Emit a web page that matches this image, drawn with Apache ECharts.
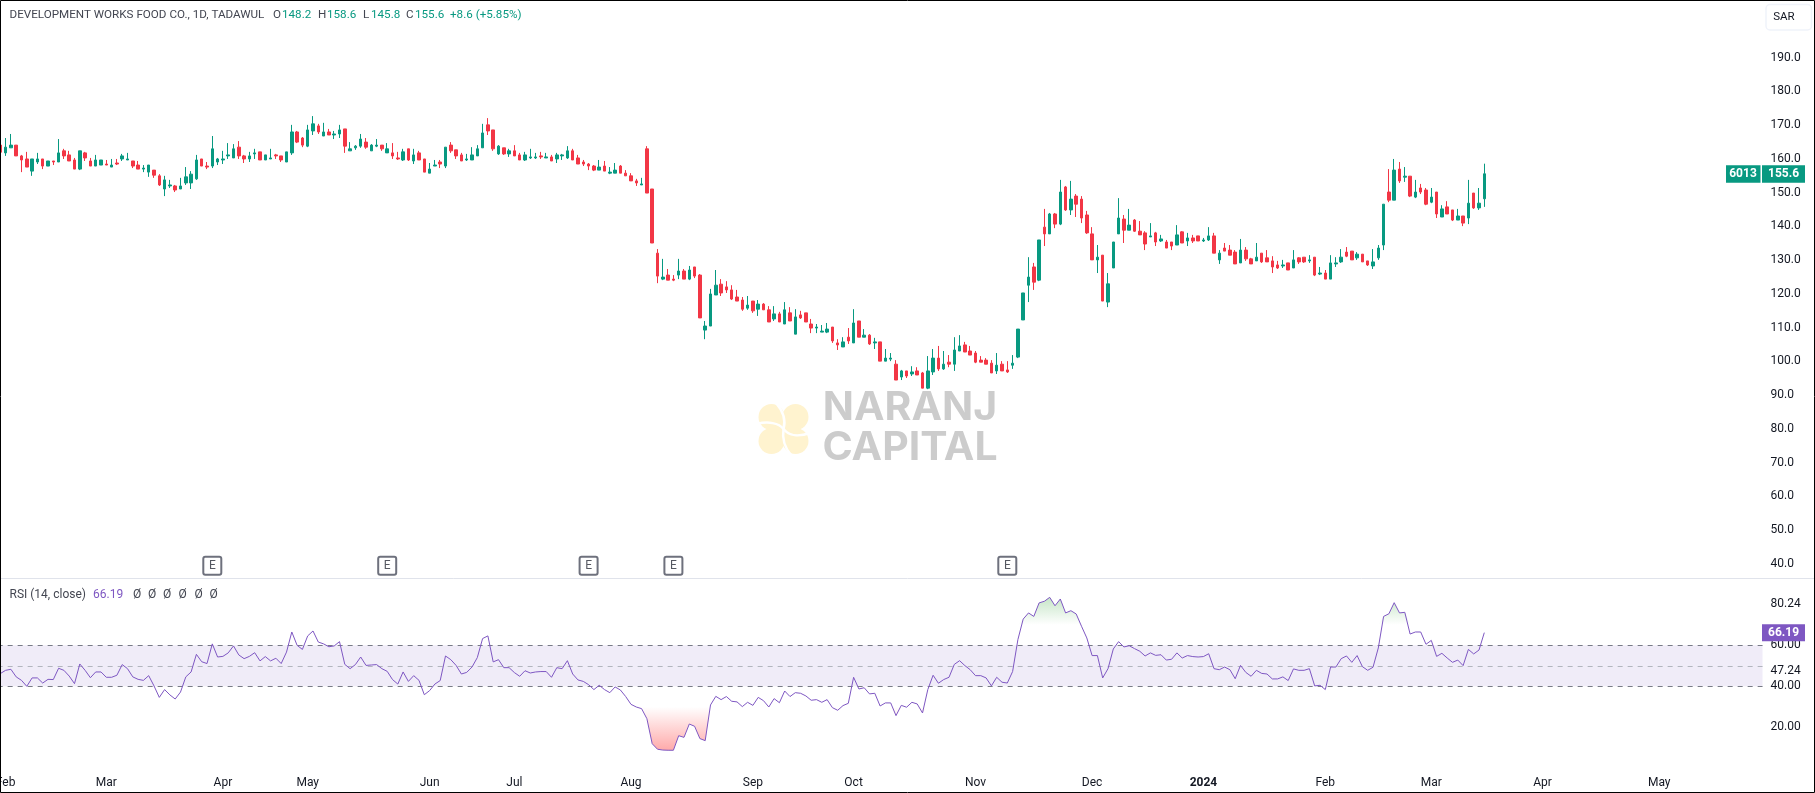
<!DOCTYPE html>
<html>
<head>
<meta charset="utf-8">
<title>6013 RSI</title>
<script src="https://cdn.jsdelivr.net/npm/echarts@6/dist/echarts.min.js"></script>
<style>
    html, body { margin: 0; padding: 0; background: #fff; overflow: hidden; }
    #chart { width: 1815px; height: 793px; }
</style>
</head>
<body>
<div id="chart"></div>
<script>
// candles
var opens = [
    164.1,161.8,163.3,164.1,160.9,160.0,156.4,159.1,160.0,157.9,
    159.4,159.1,162.4,161.2,159.7,157.0,161.8,159.4,157.9,158.2,
    158.5,157.6,158.8,160.0,159.7,159.4,158.2,157.0,156.1,156.7,
    155.0,151.1,152.0,152.0,151.1,152.9,152.9,154.1,160.0,157.9,
    157.9,159.1,159.7,160.9,160.3,163.5,160.9,160.0,161.5,162.1,
    159.7,160.0,161.2,160.9,159.1,161.8,168.0,166.2,163.8,168.3,
    169.8,166.8,168.0,167.1,167.4,168.9,162.4,163.3,163.8,165.0,
    162.4,163.8,164.1,161.8,161.8,160.3,159.7,163.0,159.4,161.8,
    160.0,155.8,157.9,159.1,157.9,164.1,162.7,161.2,159.7,159.7,
    160.9,163.3,170.1,168.6,161.5,163.3,161.5,162.4,161.2,159.7,
    160.3,160.3,160.9,160.3,160.6,160.0,160.9,160.3,162.4,160.3,
    159.1,158.5,157.9,156.7,157.9,155.8,155.8,157.9,155.8,155.0,
    153.5,152.3,163.0,151.1,132.1,124.4,125.6,124.4,125.6,126.8,
    124.4,128.0,125.6,109.3,110.5,119.7,122.9,122.1,121.2,119.1,
    118.2,115.8,117.9,115.5,117.0,115.3,112.6,114.1,111.1,114.4,
    108.1,113.8,114.4,111.1,109.9,108.7,108.7,110.2,105.5,104.3,
    107.2,105.5,112.0,107.2,107.8,105.5,105.8,100.1,100.7,99.2,
    95.4,97.2,96.3,97.2,96.6,92.1,96.9,101.0,97.8,99.8,
    99.2,103.1,104.9,103.1,102.5,100.4,100.4,99.5,97.2,99.2,
    97.5,98.9,101.3,112.3,122.6,128.0,124.1,139.8,137.8,143.7,
    140.7,151.7,144.9,149.0,148.1,143.4,137.8,130.1,131.5,117.6,
    127.7,137.8,142.2,138.9,141.9,138.6,138.1,136.9,138.1,135.7,
    135.4,135.4,134.5,138.4,135.7,136.6,137.2,135.7,136.0,137.2,
    130.1,133.6,133.0,132.4,129.2,133.0,130.4,129.8,132.1,130.7,
    129.8,128.6,128.3,129.2,127.7,130.7,130.9,129.8,130.9,125.9,
    126.2,124.4,128.9,129.5,132.4,132.7,130.7,131.8,129.8,128.3,
    130.7,134.5,150.2,147.8,157.0,154.6,154.9,148.7,151.4,150.8,
    147.2,150.2,142.8,145.8,144.9,141.9,143.1,142.5,149.9,145.5,
    148.2
];
var highs = [
    164.1,166.2,167.4,164.1,161.2,162.1,160.0,161.8,160.0,159.4,
    159.4,165.9,163.0,162.4,160.3,162.4,162.1,160.3,161.2,159.7,
    159.7,160.0,160.0,161.5,161.8,159.4,159.4,158.2,158.2,156.7,
    155.5,155.0,153.8,152.3,154.4,157.6,156.4,161.2,160.0,159.1,
    166.8,160.3,162.4,164.7,164.4,165.3,161.2,162.1,163.0,162.1,
    161.2,163.0,161.5,160.9,162.1,170.1,168.3,166.5,170.1,172.7,
    170.4,170.7,168.9,168.3,170.1,168.9,165.0,164.1,167.4,166.2,
    164.4,165.9,164.1,164.7,164.7,162.1,163.0,163.0,163.0,162.4,
    160.0,158.8,159.7,159.7,163.5,165.0,162.7,161.8,161.5,163.5,
    164.1,170.4,172.1,168.6,164.1,163.3,163.0,164.1,161.8,162.1,
    163.0,161.8,162.1,161.8,161.2,161.8,161.5,163.8,163.0,161.2,
    159.7,158.8,158.2,159.7,159.4,157.6,158.8,158.2,156.7,155.8,
    154.1,154.4,163.8,151.1,133.3,130.4,127.4,125.6,130.4,127.4,
    128.3,128.0,125.9,112.0,121.5,127.1,124.4,123.8,122.6,121.2,
    119.1,119.4,117.9,118.2,117.3,116.4,116.4,114.7,117.6,116.1,
    115.5,115.0,114.4,112.6,111.1,110.8,111.4,110.2,106.6,107.2,
    109.9,115.5,112.0,109.6,108.1,107.0,105.8,103.7,102.5,100.4,
    97.5,97.2,98.6,98.3,96.9,101.6,103.7,104.6,103.1,101.9,
    107.2,107.8,105.8,104.6,103.1,101.6,101.0,100.4,102.5,100.1,
    100.1,101.9,109.6,120.3,130.9,129.2,136.0,145.2,144.0,144.0,
    153.8,152.0,153.5,149.6,149.0,144.6,139.8,134.5,131.5,126.2,
    135.4,148.4,143.4,145.2,142.2,141.6,138.6,141.0,138.4,137.5,
    136.0,135.4,140.4,138.6,138.1,137.5,137.2,136.6,139.8,138.1,
    133.0,135.1,134.5,133.0,136.3,133.9,130.7,135.1,132.1,133.0,
    131.2,129.8,130.1,129.2,133.0,130.9,130.9,131.5,130.9,128.0,
    127.1,131.5,130.9,133.3,133.9,132.7,132.4,131.8,129.8,133.3,
    134.5,146.6,157.0,160.0,159.1,157.6,154.9,153.8,152.6,151.4,
    151.4,150.2,146.3,147.5,144.9,145.2,143.1,153.8,149.9,151.4,
    158.6
];
var lows = [
    162.0,160.9,163.3,160.9,156.1,157.6,155.0,158.5,157.0,157.9,
    158.2,159.1,160.0,159.4,157.0,156.7,159.4,157.9,157.9,158.2,
    158.2,157.6,158.2,159.4,159.7,157.3,157.0,156.1,154.7,154.4,
    152.0,149.0,151.4,150.2,151.1,152.3,151.1,153.8,157.9,157.0,
    157.3,158.2,158.5,160.0,160.3,160.0,158.8,159.1,160.0,159.7,
    159.7,160.0,160.0,159.1,159.1,161.2,164.7,163.5,163.5,167.1,
    167.4,166.8,167.1,165.9,166.2,161.8,162.4,162.7,163.3,163.0,
    162.4,163.5,162.4,161.8,160.0,159.7,159.4,159.4,158.5,159.7,
    156.1,155.8,157.9,157.3,157.3,161.8,160.0,159.4,159.4,159.7,
    160.9,163.3,167.1,162.4,161.2,161.2,160.6,160.9,159.7,159.4,
    160.0,160.0,160.0,160.3,159.4,158.8,159.7,160.0,159.7,158.5,
    157.9,156.7,156.4,156.7,156.4,155.5,155.8,155.8,155.0,153.5,
    152.0,152.3,149.9,135.1,123.2,124.1,124.1,123.8,124.4,124.4,
    124.1,124.7,112.9,106.6,110.5,119.7,119.4,120.3,118.2,117.9,
    115.0,115.3,114.4,113.5,115.3,111.7,112.0,111.7,111.1,112.0,
    108.1,112.6,111.7,108.4,108.4,108.7,108.4,105.5,103.4,104.3,
    105.2,105.5,107.2,107.2,104.9,103.7,100.1,100.1,100.1,94.5,
    94.5,95.1,95.7,96.0,92.1,91.8,96.0,97.2,97.5,98.3,
    97.2,103.1,102.8,101.9,99.5,99.8,99.2,96.6,96.3,97.2,
    96.6,97.8,101.0,112.3,117.6,121.2,123.8,134.2,137.8,139.5,
    140.4,144.6,143.4,142.8,141.0,137.8,130.1,126.2,117.9,116.1,
    127.7,137.8,135.1,138.9,138.4,137.5,133.0,136.9,134.2,135.4,
    133.6,133.0,134.5,135.1,134.2,135.1,135.7,135.4,135.7,132.1,
    128.9,132.7,131.5,128.9,129.2,129.8,128.9,129.8,129.2,129.5,
    126.2,127.4,127.7,127.1,127.7,128.9,129.2,129.2,125.3,125.6,
    124.4,124.4,128.0,129.2,130.9,130.1,130.1,129.5,128.3,127.4,
    130.1,133.0,147.2,147.8,152.9,153.2,148.7,148.4,149.6,146.3,
    146.9,142.5,142.8,143.7,141.6,141.9,140.1,140.7,145.2,144.9,
    145.8
];
var closes = [
    162.0,163.5,164.1,160.9,159.7,157.6,160.0,160.0,157.9,159.4,
    159.1,161.8,160.9,159.4,157.0,162.4,160.3,157.9,159.7,159.7,
    158.2,158.2,158.5,160.9,160.0,157.9,157.0,157.3,158.2,155.2,
    152.3,153.8,152.3,150.8,152.0,154.7,155.5,159.7,157.9,157.6,
    163.0,160.0,160.0,161.2,163.0,160.9,160.0,160.9,161.8,159.7,
    161.2,160.3,160.9,159.7,162.1,168.0,165.0,164.1,168.6,170.4,
    168.0,168.0,167.1,167.4,168.6,163.8,163.0,163.8,165.9,163.5,
    164.1,164.1,163.0,163.0,160.9,160.0,162.1,159.7,161.2,159.7,
    156.1,157.0,158.2,158.5,163.5,162.4,160.9,159.4,160.0,161.2,
    163.0,167.7,168.3,163.0,163.8,161.5,162.4,160.9,159.7,161.2,
    160.6,160.6,160.6,160.6,159.4,161.2,161.2,162.4,159.7,158.5,
    158.5,157.9,156.7,157.6,156.4,156.1,156.7,155.8,155.0,153.5,
    152.9,152.6,149.9,135.1,125.3,125.0,124.1,124.1,126.8,124.4,
    127.1,125.3,112.9,110.5,120.0,122.6,120.3,121.2,118.5,117.9,
    115.5,116.7,115.0,117.0,115.3,111.7,114.1,111.7,115.3,112.0,
    113.2,112.9,111.7,109.9,110.2,109.0,109.6,106.1,104.9,105.8,
    106.1,111.4,107.2,107.8,105.2,105.8,100.1,101.0,101.0,94.5,
    97.2,95.7,96.9,96.0,92.1,97.2,101.0,97.8,99.2,99.2,
    103.4,104.6,102.8,101.9,99.8,99.8,99.2,96.6,98.9,97.2,
    96.9,99.5,109.6,120.3,125.0,123.5,136.0,137.8,143.7,140.7,
    150.2,144.9,148.1,146.6,142.5,138.1,130.1,130.9,117.9,123.0,
    135.4,142.5,138.9,140.4,138.6,137.5,134.8,137.2,135.4,136.3,
    133.6,134.2,137.5,135.1,136.6,135.7,135.7,136.0,137.2,132.1,
    132.1,132.7,131.5,128.9,133.0,130.4,128.9,130.9,129.5,129.5,
    128.0,127.7,128.6,127.1,130.1,129.5,129.5,130.1,125.6,126.2,
    124.4,129.2,129.2,130.9,131.2,130.1,131.8,129.5,128.6,129.5,
    133.6,146.6,147.8,156.7,153.5,154.9,149.0,150.2,150.2,146.6,
    148.7,143.7,145.2,143.7,141.9,143.1,141.0,146.9,145.5,146.9,
    155.6
];

// RSI (14, close)
var rsiValues = [
    46.2,47.8,48.3,44.6,42.9,40.0,44.1,44.1,41.6,43.4,
    43.3,48.8,47.8,45.0,41.3,50.9,47.8,44.2,47.0,47.0,
    44.4,44.4,45.4,50.6,48.6,44.6,43.4,42.9,45.2,40.2,
    34.6,38.4,35.8,33.8,37.2,44.6,47.0,55.6,52.0,51.1,
    60.7,54.3,54.6,56.3,59.7,55.3,53.5,54.6,56.4,52.4,
    54.5,52.4,53.7,51.1,56.7,66.5,60.0,58.0,64.6,67.0,
    61.6,60.7,59.3,59.7,61.8,50.7,48.6,50.6,54.3,50.2,
    50.4,50.6,48.6,47.3,43.3,41.1,47.0,42.4,45.2,42.9,
    35.9,37.9,41.1,42.8,54.8,53.0,50.2,46.0,46.8,49.4,
    54.0,63.3,64.6,51.9,53.0,49.1,49.1,46.7,44.9,47.6,
    46.5,47.0,47.2,47.2,44.4,49.1,48.6,52.5,46.0,43.1,
    42.4,40.8,38.4,40.5,38.4,36.9,39.7,38.2,35.0,31.2,
    29.9,29.1,24.2,12.0,9.3,8.9,8.8,8.8,15.9,15.1,
    21.6,20.5,14.5,13.5,30.9,35.1,33.5,35.0,32.7,32.4,
    30.1,32.2,30.7,34.6,33.0,29.9,34.0,32.0,37.7,35.0,
    36.9,36.6,35.3,33.2,33.5,32.2,33.5,29.6,28.3,30.6,
    31.7,44.4,38.7,39.3,36.3,36.6,30.4,31.9,31.9,25.7,
    30.7,29.8,32.2,31.4,27.0,38.4,45.4,41.5,43.3,44.4,
    50.7,52.5,50.1,48.1,45.2,45.2,44.1,40.2,44.4,42.0,
    41.6,47.2,62.8,72.8,75.8,74.1,80.7,81.5,83.4,79.3,
    82.6,75.8,76.9,75.3,69.3,63.6,55.0,55.0,44.1,48.6,
    58.2,61.8,59.2,59.8,58.4,57.1,54.8,56.3,55.1,55.4,
    52.8,53.2,56.3,53.8,55.0,54.5,54.3,54.5,55.9,48.6,
    48.1,49.4,48.1,43.7,50.2,46.8,44.9,47.8,46.3,46.0,
    43.6,43.6,44.6,42.8,48.5,47.8,47.8,48.6,40.2,40.5,
    38.4,49.4,49.4,53.5,54.8,51.7,55.0,49.6,47.8,49.3,
    58.7,74.1,75.4,80.8,75.8,76.1,65.5,66.5,66.5,60.5,
    62.4,54.6,56.1,53.8,51.7,52.8,50.1,58.0,55.8,57.7,
    66.19
];

// axis ticks
var priceTicks = [40, 50, 60, 70, 80, 90, 100, 110, 120, 130, 140, 150, 160, 170, 180, 190];
var rsiTicks = [20, 40, 47.24, 60, 80.24];
var monthLabels = ['Feb', 'Mar', 'Apr', 'May', 'Jun', 'Jul', 'Aug', 'Sep', 'Oct', 'Nov', 'Dec', '2024', 'Feb', 'Mar', 'Apr', 'May'];
var monthIndexes = [1, 20, 42, 58, 81, 97, 119, 142, 161, 184, 206, 227, 250, 270, 291, 313];

// earnings marks
var earningsIndexes = [40, 73, 111, 127, 190];
var earningsLevel = 39.5;

var lastPrice = 155.6;
var lastRsi = 66.19;
var rsiMid = 50, rsiUpper = 60, rsiLower = 40, rsiHot = 70, rsiCold = 30;

var upColor = '#089981';
var downColor = '#f23645';
var rsiColor = '#7e57c2';
var textColor = '#131722';
var fontName = 'Roboto';
var barStep = 5.3;
var barCount = 333;

// category list, empty except where a month starts
var categories = [];
for (var i = 0; i < barCount; i++) {
    categories.push('');
}
monthIndexes.forEach(function (idx, k) {
    categories[idx] = monthLabels[k];
});

var candleData = opens.map(function (o, k) {
    return [o, closes[k], lows[k], highs[k]];
});
var hotData = rsiValues.map(function (v) { return Math.max(v, rsiHot); });
var coldData = rsiValues.map(function (v) { return Math.min(v, rsiCold); });
var earningsData = earningsIndexes.map(function (idx) { return [idx, earningsLevel]; });

var chart = echarts.init(document.getElementById('chart'));

var option = {
    animation: false,
    backgroundColor: '#ffffff',
    textStyle: { fontFamily: fontName },
    grid: [
        { left: -2.35, top: 1.5, width: barCount * barStep, height: 576.5, outerBoundsMode: 'none' },
        { left: -2.35, top: 578.5, width: barCount * barStep, height: 189.8, outerBoundsMode: 'none' }
    ],
    xAxis: [
        {
            type: 'category', gridIndex: 0, data: categories,
            axisLine: { show: false }, axisTick: { show: false }, axisLabel: { show: false }
        },
        {
            type: 'category', gridIndex: 1, data: categories,
            axisLine: { show: false }, axisTick: { show: false },
            axisLabel: {
                interval: function (idx, val) { return val !== ''; },
                margin: 9,
                fontFamily: fontName,
                fontSize: 12,
                color: textColor,
                formatter: function (val) { return val === '2024' ? '{b|2024}' : val; },
                rich: { b: { fontWeight: 'bold', fontFamily: fontName, fontSize: 12, color: textColor } }
            }
        }
    ],
    yAxis: [
        {
            type: 'value', gridIndex: 0, position: 'right', min: 35.85, max: 206.65, scale: true,
            splitLine: { show: false }, axisLine: { show: false }, axisTick: { show: false },
            axisLabel: {
                customValues: priceTicks,
                margin: 8,
                padding: [3, 0, 0, 0],
                fontFamily: fontName,
                fontSize: 12,
                color: textColor,
                formatter: function (v) { return v.toFixed(1); }
            }
        },
        {
            type: 'value', gridIndex: 1, position: 'right', min: 0, max: 92.6,
            splitLine: { show: false }, axisLine: { show: false }, axisTick: { show: false },
            axisLabel: {
                customValues: rsiTicks,
                margin: 8,
                padding: [2, 0, 0, 0],
                fontFamily: fontName,
                fontSize: 12,
                color: textColor,
                formatter: function (v) { return v.toFixed(2); }
            }
        }
    ],
    series: [
        {
            name: 'price',
            type: 'candlestick',
            xAxisIndex: 0,
            yAxisIndex: 0,
            barWidth: 3,
            data: candleData,
            itemStyle: {
                color: upColor,
                color0: downColor,
                borderColor: upColor,
                borderColor0: downColor,
                borderWidth: 1
            }
        },
        {
            name: 'earnings',
            type: 'scatter',
            xAxisIndex: 0,
            yAxisIndex: 0,
            symbol: 'path://M2,0H16A2,2 0 0 1 18,2V16A2,2 0 0 1 16,18H2A2,2 0 0 1 0,16V2A2,2 0 0 1 2,0Z',
            symbolSize: 18,
            data: earningsData,
            itemStyle: { color: '#ffffff', borderColor: '#4a4e5c', borderWidth: 2 },
            label: { show: true, position: 'inside', formatter: 'E', color: '#2a2e39', fontFamily: fontName, fontSize: 12 }
        },
        {
            name: 'RSI',
            type: 'line',
            xAxisIndex: 1,
            yAxisIndex: 1,
            data: rsiValues,
            showSymbol: false,
            z: 5,
            lineStyle: { color: rsiColor, width: 1 },
            markArea: {
                silent: true,
                itemStyle: { color: 'rgba(126,87,194,0.115)' },
                data: [[{ yAxis: rsiLower }, { yAxis: rsiUpper }]]
            },
            markLine: {
                silent: true,
                symbol: 'none',
                label: { show: false },
                data: [
                    { yAxis: rsiUpper, lineStyle: { color: '#787b86', type: [5, 5], width: 1 } },
                    { yAxis: rsiMid, lineStyle: { color: '#b2b5be', type: [5, 5], width: 1 } },
                    { yAxis: rsiLower, lineStyle: { color: '#787b86', type: [5, 5], width: 1 } }
                ]
            }
        },
        {
            name: 'overbought',
            type: 'line',
            xAxisIndex: 1,
            yAxisIndex: 1,
            data: hotData,
            showSymbol: false,
            lineStyle: { width: 0 },
            areaStyle: {
                origin: rsiHot,
                color: new echarts.graphic.LinearGradient(0, 0, 0, 1, [
                    { offset: 0, color: 'rgba(76,175,80,0.45)' },
                    { offset: 1, color: 'rgba(76,175,80,0)' }
                ])
            }
        },
        {
            name: 'oversold',
            type: 'line',
            xAxisIndex: 1,
            yAxisIndex: 1,
            data: coldData,
            showSymbol: false,
            lineStyle: { width: 0 },
            areaStyle: {
                origin: rsiCold,
                color: new echarts.graphic.LinearGradient(0, 0, 0, 1, [
                    { offset: 0, color: 'rgba(255,82,82,0)' },
                    { offset: 1, color: 'rgba(255,82,82,0.7)' }
                ])
            }
        }
    ]
};
chart.setOption(option);

// small helper for plain text items
function label(x, y, text, color, size, weight, align) {
    return {
        type: 'text',
        z: 110,
        style: {
            x: x, y: y, text: text, fill: color,
            font: (weight || 'normal') + ' ' + (size || 12) + 'px ' + fontName,
            align: align || 'left',
            verticalAlign: 'middle'
        }
    };
}

function box(x, y, w, h, color) {
    return { type: 'rect', z: 100, shape: { x: x, y: y, width: w, height: h }, style: { fill: color } };
}

// white gap between the logo petals
function swirl(x1, y1, cpx1, cpy1, cpx2, cpy2, x2, y2) {
    return {
        type: 'bezierCurve', z: 2,
        shape: { x1: x1, y1: y1, cpx1: cpx1, cpy1: cpy1, cpx2: cpx2, cpy2: cpy2, x2: x2, y2: y2 },
        style: { fill: 'none', stroke: '#ffffff', lineWidth: 2.5 }
    };
}

// stretched watermark word
function brand(y, text, stretch) {
    return {
        type: 'text', z: 3, x: 910, y: y, scaleX: stretch,
        style: { x: 0, y: 0, text: text, fill: '#cccccc', font: 'bold 39px Inter', align: 'center', verticalAlign: 'middle' }
    };
}

var priceY = chart.convertToPixel({ yAxisIndex: 0 }, lastPrice);
var rsiY = chart.convertToPixel({ yAxisIndex: 1 }, lastRsi);

var grey = '#434651';
var elements = [
    // pane separator
    { type: 'line', z: 90, shape: { x1: 0, y1: 578.5, x2: 1815, y2: 578.5 }, style: { stroke: '#e0e3eb', lineWidth: 1 } },

    // watermark
    { type: 'circle', z: 1, shape: { cx: 771.5, cy: 417, r: 13 }, style: { fill: '#fff3cf' } },
    { type: 'circle', z: 1, shape: { cx: 795.5, cy: 417, r: 13 }, style: { fill: '#fff3cf' } },
    { type: 'circle', z: 1, shape: { cx: 771.5, cy: 441, r: 13 }, style: { fill: '#fff3cf' } },
    { type: 'circle', z: 1, shape: { cx: 795.5, cy: 441, r: 13 }, style: { fill: '#fff3cf' } },
    { type: 'rect', z: 1, shape: { x: 772, y: 417, width: 23, height: 24 }, style: { fill: '#fff3cf' } },
    swirl(757, 424, 768, 421, 779, 423, 783.5, 429),
    swirl(783.5, 429, 786, 420, 783, 411, 776, 403),
    swirl(783.5, 429, 782, 439, 785, 448, 791, 455),
    swirl(783.5, 429, 789, 436, 799, 437, 810, 433),
    brand(408.5, 'NARANJ', 1.05),
    brand(448.5, 'CAPITAL', 1.05),

    // main legend
    label(9.5, 15.5, 'DEVELOPMENT WORKS FOOD CO., 1D, TADAWUL', grey, 11.65),
    label(273, 15.5, 'O', grey, 11.65),
    label(282, 15.5, '148.2', upColor, 11.65),
    label(318, 15.5, 'H', grey, 11.65),
    label(327, 15.5, '158.6', upColor, 11.65),
    label(363, 15.5, 'L', grey, 11.65),
    label(371, 15.5, '145.8', upColor, 11.65),
    label(406, 15.5, 'C', grey, 11.65),
    label(415, 15.5, '155.6', upColor, 11.65),
    label(450, 15.5, '+8.6 (+5.85%)', upColor, 11.65),

    // RSI legend
    label(9.5, 594.5, 'RSI (14, close)', grey, 12),
    label(93, 594.5, '66.19', rsiColor, 12),

    // currency button
    { type: 'rect', z: 100, shape: { x: 1766, y: 4.5, width: 45.5, height: 25.5, r: 4 }, style: { fill: '#ffffff', stroke: '#f0f3fa', lineWidth: 1.5 } },
    label(1784, 17.5, 'SAR', textColor, 11.5, 'normal', 'center'),

    // last value tags
    box(1726, priceY - 8.5, 34.5, 17.5, upColor),
    label(1743, priceY + 0.5, '6013', '#ffffff', 12, 'bold', 'center'),
    box(1762, priceY - 8.5, 43, 17.5, upColor),
    label(1783.5, priceY + 0.5, lastPrice.toFixed(1), '#ffffff', 12, 'bold', 'center'),
    box(1762, rsiY - 8.5, 43, 17, rsiColor),
    label(1783.5, rsiY + 0.5, lastRsi.toFixed(2), '#ffffff', 12, 'bold', 'center'),

    // image frame
    { type: 'rect', z: 120, shape: { x: 0.5, y: 0.5, width: 1814, height: 792 }, style: { fill: 'none', stroke: '#000000', lineWidth: 1 } }
];

// empty source markers in the RSI legend
[133, 148, 163, 178.5, 194.5, 209.5].forEach(function (x) {
    elements.push(label(x, 594.5, '\u00d8', grey, 12));
});

chart.setOption({ graphic: elements });
</script>
</body>
</html>
